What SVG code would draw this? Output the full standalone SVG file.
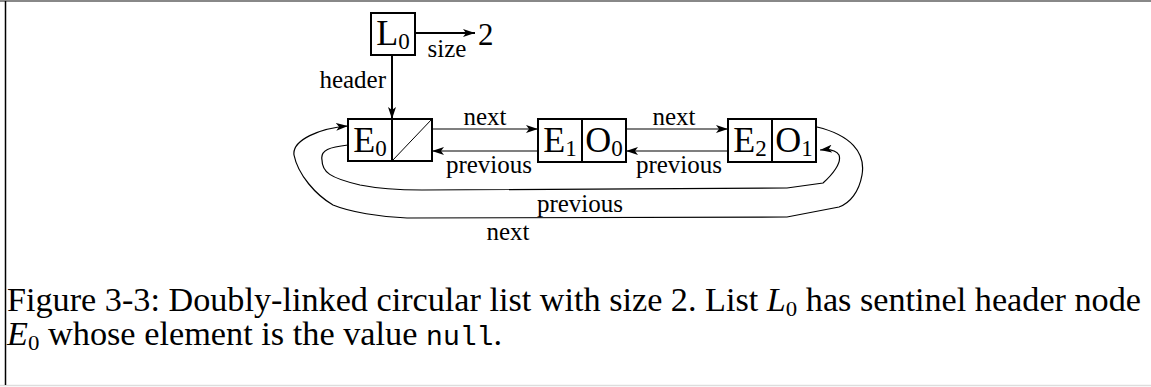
<svg xmlns="http://www.w3.org/2000/svg" width="1151" height="387" viewBox="0 0 1151 387">
<style>
.box{fill:#fff;stroke:#000;stroke-width:2}
.thin{fill:none;stroke:#000;stroke-width:1.2}
.thick{fill:none;stroke:#000;stroke-width:2}
.big{font-family:"Liberation Serif",serif;font-size:36px;fill:#000}
.sub{font-size:23px}
.lbl{font-family:"Liberation Serif",serif;font-size:25px;fill:#000}
.cap{font-family:"Liberation Serif",serif;font-size:33px;fill:#000}
.mono{font-family:"Liberation Mono",monospace;font-size:27px}
</style>
<defs>
<marker id="ah" markerUnits="userSpaceOnUse" markerWidth="12" markerHeight="8" refX="12" refY="4" orient="auto">
<path d="M0,0 L12,4 L0,8 L3,4 Z" fill="#000"/>
</marker>
</defs>
<rect width="1151" height="387" fill="#fff"/>
<line x1="0" y1="1" x2="1151" y2="1" stroke="#888" stroke-width="2"/>
<line x1="0" y1="385.5" x2="1151" y2="385.5" stroke="#ddd" stroke-width="1.5"/>
<line x1="5.5" y1="1" x2="5.5" y2="385" stroke="#000" stroke-width="1.5"/>

<g id="connectors">
<line class="thick" x1="415" y1="33" x2="475" y2="33" marker-end="url(#ah)"/>
<line class="thick" x1="392" y1="55" x2="392" y2="119" marker-end="url(#ah)"/>
<line class="thin" x1="432" y1="129" x2="538" y2="129" marker-end="url(#ah)"/>
<line class="thin" x1="538" y1="151" x2="432" y2="151" marker-end="url(#ah)"/>
<line class="thin" x1="626" y1="129" x2="728" y2="129" marker-end="url(#ah)"/>
<line class="thin" x1="728" y1="151" x2="626" y2="151" marker-end="url(#ah)"/>
<path class="thin" d="M817,127 C850,135 866,152 862,175 C859,192 850,203 839,207 L787,217 L407,218 C380,217 350,212 333,205 C316,195 298,175 294,155 C292,140 320,128 348,126" marker-end="url(#ah)"/>
<path class="thin" d="M348,145 C330,147 320,150 322,160 C322,172 330,178 360,185 C380,189 400,190 422,190 L787,188 L823,183 C832,175 842,163 839,155 C836,150 829,149 820,150" marker-end="url(#ah)"/>
<text class="lbl" x="386" y="88" text-anchor="end">header</text>
<text class="lbl" x="447" y="57" text-anchor="middle">size</text>
<text class="lbl" x="478" y="45" style="font-size:31px">2</text>
<text class="lbl" x="485" y="125" text-anchor="middle">next</text>
<text class="lbl" x="489" y="173" text-anchor="middle">previous</text>
<text class="lbl" x="674" y="125" text-anchor="middle">next</text>
<text class="lbl" x="679" y="173" text-anchor="middle">previous</text>
<text class="lbl" x="580" y="212" text-anchor="middle">previous</text>
<text class="lbl" x="508" y="240" text-anchor="middle">next</text>
</g>

<g id="L0">
<rect class="box" x="371" y="13" width="44" height="42"/>
<text class="big" x="393" y="45" text-anchor="middle">L<tspan class="sub" dy="4">0</tspan></text>
</g>

<g id="E0">
<rect class="box" x="348" y="119" width="84" height="42"/>
<line class="thick" x1="392" y1="119" x2="392" y2="161"/>
<line x1="392" y1="161" x2="432" y2="119" stroke="#000" stroke-width="1"/>
<text class="big" x="370" y="152" text-anchor="middle">E<tspan class="sub" dy="4">0</tspan></text>
</g>

<g id="E1">
<rect class="box" x="538" y="119" width="88" height="43"/>
<line class="thick" x1="582" y1="119" x2="582" y2="162"/>
<text class="big" x="560" y="152" text-anchor="middle">E<tspan class="sub" dy="4">1</tspan></text>
<text class="big" x="604" y="152" text-anchor="middle">O<tspan class="sub" dy="4">0</tspan></text>
</g>

<g id="E2">
<rect class="box" x="728" y="119" width="88" height="43"/>
<line class="thick" x1="772" y1="119" x2="772" y2="162"/>
<text class="big" x="750" y="152" text-anchor="middle">E<tspan class="sub" dy="4">2</tspan></text>
<text class="big" x="794" y="152" text-anchor="middle">O<tspan class="sub" dy="4">1</tspan></text>
</g>

<g id="caption">
<text class="cap" x="7" y="311" textLength="1134" lengthAdjust="spacingAndGlyphs">Figure 3-3: Doubly-linked circular list with size 2. List <tspan font-style="italic">L</tspan><tspan font-size="22" dy="5">0</tspan><tspan dy="-5"> has sentinel header node</tspan></text>
<text class="cap" x="7" y="345" textLength="495" lengthAdjust="spacingAndGlyphs"><tspan font-style="italic">E</tspan><tspan font-size="22" dy="5">0</tspan><tspan dy="-5"> whose element is the value </tspan><tspan class="mono">null</tspan>.</text>
</g>
</svg>
